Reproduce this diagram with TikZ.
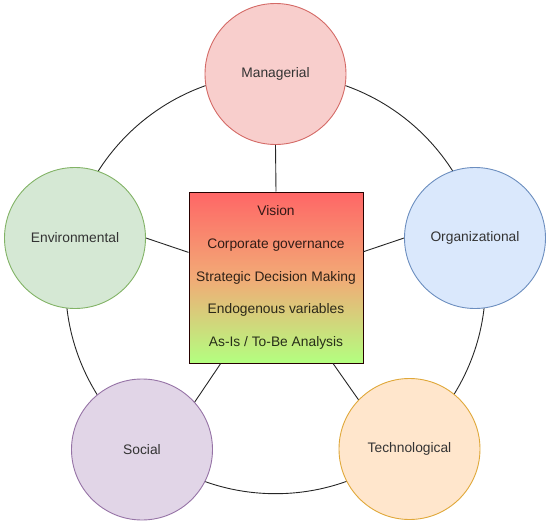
\documentclass[tikz,border=0pt]{standalone}
\usepackage{fontspec}
\setmainfont{Liberation Sans}
\usetikzlibrary{calc}
\definecolor{redF}{HTML}{F8CECC}\definecolor{redD}{HTML}{D46A66}
\definecolor{grnF}{HTML}{D5E8D4}\definecolor{grnD}{HTML}{82B366}
\definecolor{bluF}{HTML}{DAE8FC}\definecolor{bluD}{HTML}{6C8EBF}
\definecolor{purF}{HTML}{E1D5E7}\definecolor{purD}{HTML}{9673A6}
\definecolor{oraF}{HTML}{FFE6CC}\definecolor{oraD}{HTML}{E0A83A}
\definecolor{boxT}{HTML}{FF6666}\definecolor{boxM}{HTML}{F2AA76}\definecolor{boxB}{HTML}{B3FF80}
\definecolor{txt}{HTML}{333333}
\begin{document}
\begin{tikzpicture}[x=1pt,y=-1pt,
  dim/.style={circle,minimum size=141pt,inner sep=0pt,line width=0.9pt,text=txt,
    font=\fontsize{13.8}{16}\selectfont},
  link/.style={line width=0.9pt,draw=black!85},
  core/.style={rectangle,minimum width=174pt,minimum height=171pt,inner sep=0pt,
    top color=boxT,bottom color=boxB,middle color=boxM,
    draw=black!75!red!60!black,line width=1pt,align=center,
    text=black,text opacity=0.8,font=\fontsize{13.8}{32.6}\selectfont}]
\useasboundingbox (0,0) rectangle (550,525);
\coordinate (ringc) at (275.5,283.7);
\draw[link] (ringc) circle (210);
\node[dim,fill=redF,draw=redD] (M) at (275.5,74) {Managerial};
\node[dim,fill=grnF,draw=grnD] (E) at (75,238) {Environmental};
\node[dim,fill=bluF,draw=bluD] (O) at (475,238) {Organizational};
\node[dim,fill=purF,draw=purD] (S) at (142,449.5) {Social};
\node[dim,fill=oraF,draw=oraD] (T) at (409.5,449) {Technological};
\node[core] (B) at (276,277.5) {Vision\\Corporate governance\\Strategic Decision Making\\Endogenous variables\\As-Is / To-Be Analysis};
\draw[link] (M.south) -- (B.north);
\draw[link] (E.east) -- ($(B.north west)!0.354!(B.south west)$);
\draw[link] (O.west) -- ($(B.north east)!0.35!(B.south east)$);
\draw[link] (S.42.6) -- ($(B.south west)!0.184!(B.south east)$);
\draw[link] (T.136.5) -- ($(B.south west)!0.826!(B.south east)$);
\end{tikzpicture}
\end{document}
